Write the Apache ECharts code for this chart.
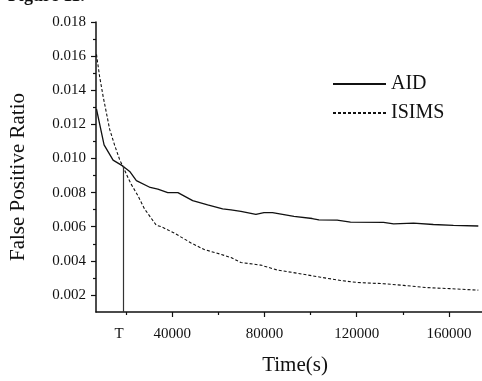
<!DOCTYPE html>
<html>
<head>
<meta charset="utf-8">
<script src="https://cdn.jsdelivr.net/npm/echarts@6/dist/echarts.min.js"></script>
<style>
  html, body { margin: 0; padding: 0; background: #fff; }
  #chart { width: 482px; height: 381px; }
</style>
</head>
<body>
<div id="chart"></div>
<script>
// AID (solid) and ISIMS (dashed) false positive ratio over time
const aidTime = [7200, 10500, 14400, 18700, 21600, 24500, 30500, 33800, 38100, 42500, 48900, 55400, 61900, 65500, 69800, 76300, 79800, 83500, 92800, 100700, 103600, 111500, 117300, 131600, 136000, 144600, 153200, 161900, 172700];
const aidRatio = [0.0129, 0.0108, 0.0099, 0.00955, 0.00924, 0.0087, 0.0083, 0.0082, 0.0080, 0.0080, 0.00753, 0.00728, 0.00705, 0.00699, 0.0069, 0.00672, 0.00682, 0.00682, 0.00661, 0.00648, 0.0064, 0.00638, 0.00627, 0.00625, 0.00617, 0.00621, 0.00613, 0.00608, 0.00604];

const isimsTime = [7200, 8600, 10100, 11500, 12900, 15100, 17300, 18700, 20900, 22300, 25200, 28000, 33100, 35300, 41000, 48200, 53900, 61200, 65500, 69800, 78400, 85600, 94300, 104300, 113000, 120200, 131600, 140300, 150400, 160400, 172700];
const isimsRatio = [0.0161, 0.01478, 0.01363, 0.01268, 0.01172, 0.01077, 0.00991, 0.00953, 0.00886, 0.00848, 0.00781, 0.00705, 0.00609, 0.0060, 0.00562, 0.00505, 0.00466, 0.00438, 0.00419, 0.0039, 0.00375, 0.00346, 0.00327, 0.00304, 0.00285, 0.00273, 0.00266, 0.00256, 0.00243, 0.00237, 0.00228];

// T marker: time where the two curves cross
const tTime = 18700;
const tRatio = 0.00955;

// ticks
const xMajor = [40000, 80000, 120000, 160000];
const xMinor = [20000, 60000, 100000, 140000];
const yMajor = [0.002, 0.004, 0.006, 0.008, 0.010, 0.012, 0.014, 0.016, 0.018];
const yMinor = [0.003, 0.005, 0.007, 0.009, 0.011, 0.013, 0.015, 0.017];

const FONT = 'Liberation Serif';
const INK = '#111';

const chart = echarts.init(document.getElementById('chart'));

const baseX = { type: 'value', min: 7000, max: 174300, splitLine: { show: false } };
const baseY = { type: 'value', min: 0.001, max: 0.018, splitLine: { show: false } };

const option = {
  animation: false,
  textStyle: { fontFamily: FONT, color: INK },
  grid: { left: 94, right: 0, top: 22, bottom: 62 },
  legend: {
    data: ['AID', 'ISIMS'],
    orient: 'vertical',
    left: 327,
    top: 69,
    itemWidth: 53,
    itemHeight: 20,
    itemGap: 9,
    itemStyle: { opacity: 0 },
    textStyle: { fontFamily: FONT, fontSize: 20, color: INK },
  },
  graphic: [
    {
      type: 'text',
      left: 8,
      top: -13,
      style: { text: 'Figure 11.', font: 'bold 18px "Liberation Serif"', fill: INK },
    },
  ],
  xAxis: [
    {
      ...baseX,
      name: 'Time(s)',
      nameLocation: 'middle',
      nameGap: 43,
      nameTextStyle: { fontFamily: FONT, fontSize: 21, color: INK, padding: [0, 0, 0, 12] },
      axisLine: { lineStyle: { color: INK, width: 1.5 } },
      axisTick: { customValues: xMajor, length: 5, lineStyle: { color: INK, width: 1.2 } },
      axisLabel: {
        customValues: xMajor,
        fontFamily: FONT,
        fontSize: 15,
        color: INK,
        margin: 15,
        formatter: (v) => String(v),
      },
    },
    {
      ...baseX,
      position: 'bottom',
      axisLine: { show: false },
      axisTick: { customValues: xMinor, length: 3, lineStyle: { color: INK, width: 1.2 } },
      axisLabel: { show: false },
    },
  ],
  yAxis: [
    {
      ...baseY,
      name: 'False Positive Ratio',
      nameLocation: 'middle',
      nameGap: 67,
      nameTextStyle: { fontFamily: FONT, fontSize: 21, color: INK, padding: [0, 20, 0, 0] },
      axisLine: { show: true, lineStyle: { color: INK, width: 1.5 } },
      axisTick: { show: true, customValues: yMajor, length: 5, lineStyle: { color: INK, width: 1.2 } },
      axisLabel: {
        customValues: yMajor,
        fontFamily: FONT,
        fontSize: 15,
        color: INK,
        margin: 10,
        formatter: (v) => v.toFixed(3),
      },
    },
    {
      ...baseY,
      position: 'left',
      axisLine: { show: false },
      axisTick: { show: true, customValues: yMinor, length: 3, lineStyle: { color: INK, width: 1.2 } },
      axisLabel: { show: false },
    },
  ],
  series: [
    {
      name: 'AID',
      type: 'line',
      data: aidTime.map((t, i) => [t, aidRatio[i]]),
      symbol: 'none',
      lineStyle: { color: INK, width: 1.3 },
      itemStyle: { color: INK },
      markLine: {
        silent: true,
        symbol: 'none',
        lineStyle: { color: '#333', width: 1.2, type: 'solid' },
        label: {
          show: true,
          position: 'start',
          formatter: 'T',
          fontFamily: FONT,
          fontSize: 15,
          color: INK,
          distance: 15,
          offset: [-4, 0],
        },
        data: [[{ coord: [tTime, 0.001] }, { coord: [tTime, tRatio] }]],
      },
    },
    {
      name: 'ISIMS',
      type: 'line',
      data: isimsTime.map((t, i) => [t, isimsRatio[i]]),
      symbol: 'none',
      lineStyle: { color: INK, width: 1.1, type: [3, 2] },
      itemStyle: { color: INK },
    },
  ],
};

chart.setOption(option);
</script>
</body>
</html>
